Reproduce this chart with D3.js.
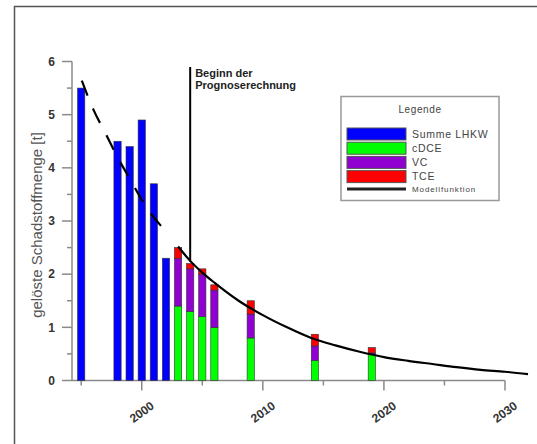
<!DOCTYPE html>
<html><head><meta charset="utf-8">
<script src="https://cdn.jsdelivr.net/npm/d3@7"></script>
<style>html,body{margin:0;padding:0;background:#fff;overflow:hidden}svg{display:block}</style>
</head><body>
<script>
// ---- data ----
const sumYears = [1995, 1998, 1999, 2000, 2001, 2002];
const sumLHKW = [5.5, 4.5, 4.4, 4.9, 3.7, 2.3];
const stackYears = [2003, 2004, 2005, 2006, 2009, 2014.3, 2019];
const cDCE = [1.4, 1.3, 1.2, 1.0, 0.8, 0.38, 0.5];
const VC = [0.9, 0.8, 0.8, 0.7, 0.45, 0.27, 0.02];
const TCE = [0.2, 0.1, 0.1, 0.1, 0.25, 0.22, 0.1];
const modelDashYears = [1995.05, 1996, 1997, 1998, 1999, 2000, 2001, 2002.1];
const modelDash = [5.64, 5.1, 4.65, 4.2, 3.8, 3.4, 3.07, 2.78];
const modelYears = [2003, 2004, 2005, 2006, 2008, 2010, 2012, 2014, 2016, 2018, 2020, 2022, 2024, 2026, 2028, 2030, 2031.9];
const model = [2.52, 2.25, 2.03, 1.84, 1.5, 1.23, 1.0, 0.8, 0.66, 0.54, 0.44, 0.37, 0.31, 0.25, 0.2, 0.165, 0.12];
const prognoseYear = 2004;
const xMajor = [2000, 2010, 2020, 2030];
const xMinor = [1995, 2005, 2015, 2025];
const yMajor = [0, 1, 2, 3, 4, 5, 6];
const yMinor = [0.5, 1.5, 2.5, 3.5, 4.5, 5.5];
const legendItems = ["Summe LHKW", "cDCE", "VC", "TCE"];
const colors = {sum: "#0000ff", cdce: "#00ff00", vc: "#9000d0", tce: "#ff0000"};

const W = 537, H = 444;
const svg = d3.select("body").append("svg").attr("width", W).attr("height", H);

// outer frame
svg.append("rect").attr("x", 14.5).attr("y", 6.5).attr("width", 600).attr("height", 600)
  .attr("fill", "none").attr("stroke", "#555").attr("stroke-width", 1.5);

const x = d3.scaleLinear().domain([1995, 2030]).range([81.2, 505]);
const y = d3.scaleLinear().domain([0, 6]).range([380.5, 61.5]);
const x0 = 72, xEnd = 505;
const axisColor = "#8a8a8a";

// axes
const ax = svg.append("g");
ax.append("line").attr("x1", x0).attr("x2", xEnd).attr("y1", y(0)).attr("y2", y(0)).attr("stroke", axisColor).attr("stroke-width", 1.5);
ax.append("line").attr("x1", x0).attr("x2", x0).attr("y1", y(0)).attr("y2", y(6)).attr("stroke", axisColor).attr("stroke-width", 1.5);
yMajor.forEach(v => {
  ax.append("line").attr("x1", x0 - 10).attr("x2", x0).attr("y1", y(v)).attr("y2", y(v)).attr("stroke", axisColor).attr("stroke-width", 1.5);
  ax.append("text").attr("x", 55).attr("y", y(v)).attr("dy", "0.36em").attr("text-anchor", "end")
    .attr("font-family", "Liberation Sans, Arial, sans-serif").attr("font-size", 12).attr("font-weight", "bold").attr("fill", "#333").text(v);
});
yMinor.forEach(v => {
  ax.append("line").attr("x1", x0 - 5).attr("x2", x0).attr("y1", y(v)).attr("y2", y(v)).attr("stroke", axisColor).attr("stroke-width", 1.5);
});
xMajor.forEach(v => {
  ax.append("line").attr("x1", x(v)).attr("x2", x(v)).attr("y1", y(0)).attr("y2", y(0) + 10).attr("stroke", axisColor).attr("stroke-width", 1.5);
  ax.append("text").attr("transform", `translate(${x(v)},${412}) rotate(-36)`).attr("text-anchor", "middle").attr("dy", "0.35em")
    .attr("font-family", "Liberation Sans, Arial, sans-serif").attr("font-size", 12).attr("font-weight", "bold").attr("fill", "#333").text(v);
});
xMinor.forEach(v => {
  ax.append("line").attr("x1", x(v)).attr("x2", x(v)).attr("y1", y(0)).attr("y2", y(0) + 5).attr("stroke", axisColor).attr("stroke-width", 1.5);
});

// y title
svg.append("text").attr("transform", `translate(37,225) rotate(-90)`).attr("text-anchor", "middle").attr("dy", "0.35em")
  .attr("font-family", "Liberation Sans, Arial, sans-serif").attr("font-size", 15).attr("fill", "#555").text("gelöste Schadstoffmenge [t]");

// bars
const bw = x(1995.3) - x(1994.7);
const bars = svg.append("g").attr("stroke", "#333").attr("stroke-width", 0.6);
sumYears.forEach((yr, i) => {
  bars.append("rect").attr("x", x(yr) - bw / 2).attr("y", y(sumLHKW[i])).attr("width", bw).attr("height", y(0) - y(sumLHKW[i])).attr("fill", colors.sum);
});
stackYears.forEach((yr, i) => {
  const a = cDCE[i], b = a + VC[i], c = b + TCE[i];
  bars.append("rect").attr("x", x(yr) - bw / 2).attr("y", y(a)).attr("width", bw).attr("height", y(0) - y(a)).attr("fill", colors.cdce);
  bars.append("rect").attr("x", x(yr) - bw / 2).attr("y", y(b)).attr("width", bw).attr("height", y(a) - y(b)).attr("fill", colors.vc);
  bars.append("rect").attr("x", x(yr) - bw / 2).attr("y", y(c)).attr("width", bw).attr("height", y(b) - y(c)).attr("fill", colors.tce);
});

// model curves
const line = d3.line().x(d => x(d[0])).y(d => y(d[1])).curve(d3.curveMonotoneX);
svg.append("path").attr("d", line(modelDashYears.map((v, i) => [v, modelDash[i]])))
  .attr("fill", "none").attr("stroke", "#000").attr("stroke-width", 2.2).attr("stroke-dasharray", "16,14");
svg.append("path").attr("d", line(modelYears.map((v, i) => [v, model[i]])))
  .attr("fill", "none").attr("stroke", "#000").attr("stroke-width", 2.2);

// prognose line
const pv = 2.23;
svg.append("line").attr("x1", x(prognoseYear)).attr("x2", x(prognoseYear)).attr("y1", 67).attr("y2", y(pv))
  .attr("stroke", "#000").attr("stroke-width", 2);
const pt = svg.append("text").attr("font-family", "Liberation Sans, Arial, sans-serif").attr("font-size", 11).attr("font-weight", "bold").attr("fill", "#222");
pt.append("tspan").attr("x", x(prognoseYear) + 5).attr("y", 77).text("Beginn der");
pt.append("tspan").attr("x", x(prognoseYear) + 5).attr("y", 89).text("Prognoserechnung");

// legend
const lg = svg.append("g");
lg.append("rect").attr("x", 341).attr("y", 96.5).attr("width", 158).attr("height", 104).attr("fill", "#fff").attr("stroke", "#999").attr("stroke-width", 1.5);
lg.append("text").attr("x", 420).attr("y", 109).attr("dy", "0.35em").attr("text-anchor", "middle")
  .attr("font-family", "Liberation Sans, Arial, sans-serif").attr("font-size", 10).attr("letter-spacing", 0.6).attr("fill", "#444").text("Legende");
const lc = [colors.sum, colors.cdce, colors.vc, colors.tce];
legendItems.forEach((name, i) => {
  const yy = 128 + i * 14.2;
  lg.append("rect").attr("x", 347).attr("y", yy).attr("width", 59).attr("height", 12).attr("fill", lc[i]).attr("stroke", "#555").attr("stroke-width", 1);
  lg.append("text").attr("x", 412).attr("y", yy + 6).attr("dy", "0.35em")
    .attr("font-family", "Liberation Sans, Arial, sans-serif").attr("font-size", 10.5).attr("letter-spacing", 0.7).attr("fill", "#444").text(name);
});
lg.append("line").attr("x1", 347).attr("x2", 406).attr("y1", 189).attr("y2", 189).attr("stroke", "#222").attr("stroke-width", 3);
lg.append("text").attr("x", 412).attr("y", 189).attr("dy", "0.35em")
  .attr("font-family", "Liberation Sans, Arial, sans-serif").attr("font-size", 8).attr("letter-spacing", 0.9).attr("fill", "#444").text("Modellfunktion");
</script>
</body></html>
